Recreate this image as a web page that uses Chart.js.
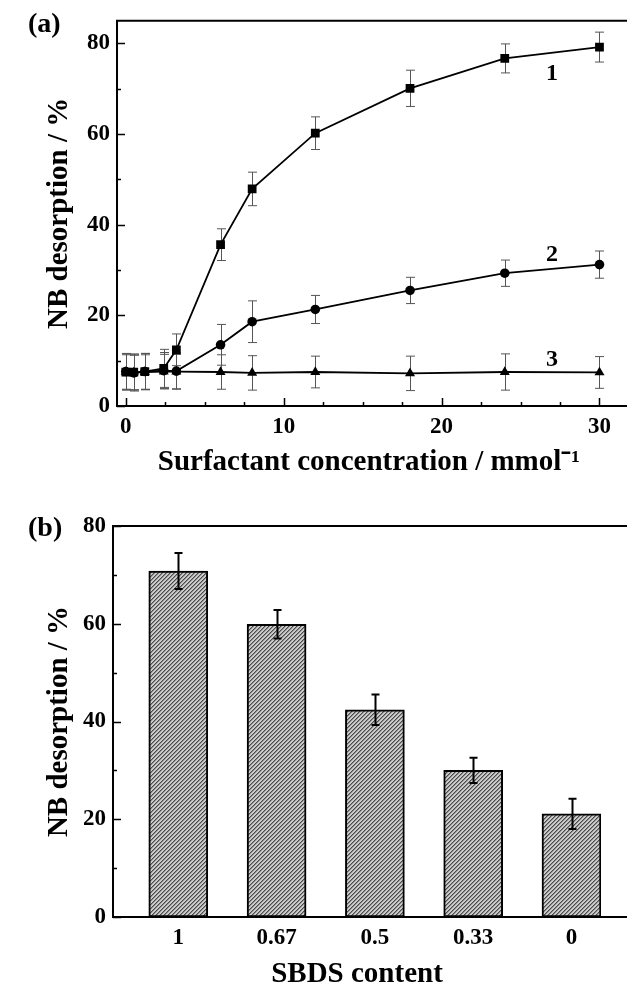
<!DOCTYPE html>
<html>
<head>
<meta charset="utf-8">
<script src="https://cdn.jsdelivr.net/npm/chart.js@4.4.1/dist/chart.umd.min.js"></script>
<style>
  html, body { margin: 0; padding: 0; background: #fff; }
  body { width: 627px; height: 989px; position: relative; overflow: hidden;
         font-family: 'Liberation Serif', 'Times New Roman', serif; }
  canvas { position: absolute; left: 0; }
  #top { top: 0; }
  #bottom { top: 495px; }
  .panel { position: absolute; z-index: 2; font-weight: bold; font-size: 28px; line-height: 1; color: #000; }
</style>
</head>
<body>
<canvas id="top" width="627" height="495"></canvas>
<canvas id="bottom" width="627" height="494"></canvas>
<div class="panel" style="left:28px;top:9px">(a)</div>
<div class="panel" style="left:28px;top:513px">(b)</div>
<script>
// panel (a): desorption vs surfactant concentration
const concentration = [0, 0.5, 1.2, 2.4, 3.2, 6, 8, 12, 18, 24, 30];
const desorption1 = [7.5, 7.5, 7.6, 8.3, 12.4, 35.6, 47.9, 60.2, 70.1, 76.7, 79.2];
const error1 = [4.0, 4.0, 4.0, 4.2, 3.5, 3.5, 3.7, 3.6, 4.0, 3.2, 3.3];
const desorption2 = [7.6, 7.3, 7.6, 7.8, 7.7, 13.5, 18.6, 21.3, 25.5, 29.3, 31.2];
const error2 = [4.0, 4.0, 4.0, 4.0, 4.0, 4.5, 4.6, 3.1, 2.9, 2.9, 3.0];
const desorption3 = [7.5, 7.4, 7.5, 7.6, 7.6, 7.5, 7.3, 7.5, 7.2, 7.5, 7.4];
const error3 = [3.8, 3.8, 3.8, 3.8, 3.8, 3.8, 3.8, 3.5, 3.8, 4.0, 3.5];
const curveLabels = ['1', '2', '3'];
const curveLabelX = [27, 27, 27];
const curveLabelY = [73.4, 33.4, 10.3];

// panel (b): desorption vs SBDS content
const sbdsContent = ['1', '0.67', '0.5', '0.33', '0'];
const barDesorption = [70.8, 59.9, 42.4, 30.0, 21.1];
const barError = [3.7, 2.9, 3.1, 2.6, 3.1];

Chart.defaults.font.family = "'Liberation Serif', 'Times New Roman', serif";
Chart.defaults.font.weight = 'bold';
Chart.defaults.color = '#000';

// inward ticks + top frame line
const frameTicks = {
  id: 'frameTicks',
  afterDraw(chart, args, opts) {
    const { ctx, chartArea: a, scales: { x, y } } = chart;
    ctx.save();
    ctx.strokeStyle = '#000';
    ctx.lineWidth = 2;
    ctx.beginPath();
    ctx.moveTo(a.left - 1, a.top);
    ctx.lineTo(chart.width, a.top);
    ctx.moveTo(a.right, a.bottom);
    ctx.lineTo(chart.width, a.bottom);
    ctx.stroke();
    ctx.lineWidth = 1.5;
    ctx.beginPath();
    if (opts.xMinor) {
      for (let v = Math.ceil(x.min / opts.xMinor) * opts.xMinor; v <= x.max; v += opts.xMinor) {
        const len = Math.abs(v % opts.xMajor) < 1e-6 ? 8 : 4;
        const px = Math.round(x.getPixelForValue(v)) + 0.5;
        ctx.moveTo(px, a.bottom);
        ctx.lineTo(px, a.bottom - len);
      }
    }
    for (let v = Math.ceil(y.min / opts.yMinor) * opts.yMinor; v <= y.max; v += opts.yMinor) {
      const len = Math.abs(v % opts.yMajor) < 1e-6 ? 8 : 4;
      const py = Math.round(y.getPixelForValue(v)) + 0.5;
      ctx.moveTo(a.left, py);
      ctx.lineTo(a.left + len, py);
    }
    ctx.stroke();
    ctx.restore();
  }
};

function drawErrors(chart, opts) {
  const { ctx, scales: { x, y } } = chart;
  ctx.save();
  ctx.strokeStyle = opts.color;
  ctx.lineWidth = opts.width;
  chart.data.datasets.forEach(ds => {
    if (!ds.errors) return;
    ds.data.forEach((p, j) => {
      const px = Math.round(x.getPixelForValue(p.x)) + 0.5;
      const hi = y.getPixelForValue(p.y + ds.errors[j]);
      const lo = y.getPixelForValue(p.y - ds.errors[j]);
      ctx.beginPath();
      ctx.moveTo(px, hi); ctx.lineTo(px, lo);
      ctx.moveTo(px - opts.cap, hi); ctx.lineTo(px + opts.cap, hi);
      ctx.moveTo(px - opts.cap, lo); ctx.lineTo(px + opts.cap, lo);
      ctx.stroke();
    });
  });
  ctx.restore();
}

const errorBars = {
  id: 'errorBars',
  beforeDatasetsDraw(chart, args, opts) { if (!opts.onTop) drawErrors(chart, opts); },
  afterDatasetsDraw(chart, args, opts) { if (opts.onTop) drawErrors(chart, opts); }
};

const curveNames = {
  id: 'curveNames',
  afterDatasetsDraw(chart, args, opts) {
    if (!opts.labels) return;
    const { ctx, scales: { x, y } } = chart;
    ctx.save();
    ctx.font = "bold 24px 'Liberation Serif', serif";
    ctx.fillStyle = '#000';
    ctx.textAlign = 'center';
    ctx.textBaseline = 'middle';
    opts.labels.forEach((t, i) => {
      ctx.fillText(t, x.getPixelForValue(opts.xs[i]), y.getPixelForValue(opts.ys[i]));
    });
    ctx.restore();
  }
};

function points(values) {
  return concentration.map((c, i) => ({ x: c, y: values[i] }));
}

const axisBorder = { display: true, color: '#000', width: 2 };
const tickFont = { size: 23, weight: 'bold' };
const titleFont = { size: 29, weight: 'bold', lineHeight: 1 };

new Chart(document.getElementById('top'), {
  type: 'line',
  data: {
    datasets: [
      { data: points(desorption1), errors: error1, pointStyle: 'rect', pointRadius: 6.2 },
      { data: points(desorption2), errors: error2, pointStyle: 'circle', pointRadius: 4.8 },
      { data: points(desorption3), errors: error3, pointStyle: 'triangle', pointRadius: 5.8 }
    ].map(d => Object.assign(d, {
      borderColor: '#000', borderWidth: 1.8, backgroundColor: '#000',
      pointBackgroundColor: '#000', pointBorderWidth: 0, tension: 0
    }))
  },
  options: {
    responsive: false, animation: false, devicePixelRatio: 1,
    layout: { padding: { top: 17, right: 0, left: 0, bottom: 0 } },
    plugins: {
      legend: { display: false }, tooltip: { enabled: false },
      errorBars: { color: '#555', width: 1, cap: 4.5, onTop: false },
      frameTicks: { xMinor: 2.5, xMajor: 10, yMinor: 10, yMajor: 20 },
      curveNames: { labels: curveLabels, xs: curveLabelX, ys: curveLabelY }
    },
    scales: {
      x: {
        type: 'linear', min: -0.56, max: 31.35,
        afterFit: s => { s.height = 89; },
        grid: { display: false, drawTicks: false }, border: axisBorder,
        ticks: { stepSize: 10, padding: 7, autoSkip: false, maxRotation: 0, includeBounds: false,
                 font: tickFont, callback: v => (v % 10 === 0 ? v : '') },
        title: { display: true, text: 'Surfactant concentration / mmol⁻¹', font: titleFont,
                 padding: { top: 0, bottom: 18 } }
      },
      y: {
        min: 0, max: 85,
        afterFit: s => { s.width = 117; },
        grid: { display: false, drawTicks: false }, border: axisBorder,
        ticks: { stepSize: 20, padding: 7, includeBounds: false, font: tickFont,
                 callback: v => (v % 20 === 0 ? v : '') },
        title: { display: true, text: 'NB desorption / %', font: titleFont,
                 padding: { top: 45, bottom: 0 } }
      }
    }
  },
  plugins: [frameTicks, errorBars, curveNames]
});

function hatch() {
  const c = document.createElement('canvas');
  c.width = 4; c.height = 4;
  const g = c.getContext('2d');
  g.fillStyle = '#cacaca';
  g.fillRect(0, 0, 4, 4);
  for (let i = 0; i < 4; i++) {
    g.fillStyle = '#4a4a4a';
    g.fillRect(i, 3 - i, 1, 1);
    g.fillStyle = '#8e8e8e';
    g.fillRect(i, (4 - i) % 4, 1, 1);
  }
  return g.createPattern(c, 'repeat');
}

new Chart(document.getElementById('bottom'), {
  type: 'bar',
  data: {
    datasets: [{
      data: sbdsContent.map((c, i) => ({ x: i + 1, y: barDesorption[i] })),
      errors: barError,
      backgroundColor: hatch(), borderColor: '#000', borderWidth: 2,
      borderSkipped: false, barThickness: 59
    }]
  },
  options: {
    responsive: false, animation: false, devicePixelRatio: 1,
    layout: { padding: { top: 31, right: 26, left: 0, bottom: 0 } },
    plugins: {
      legend: { display: false }, tooltip: { enabled: false },
      errorBars: { color: '#000', width: 2, cap: 4, onTop: true },
      frameTicks: { yMinor: 10, yMajor: 20 }
    },
    scales: {
      x: {
        type: 'linear', min: 0.336, max: 5.3, offset: false,
        afterFit: s => { s.height = 72; },
        grid: { display: false, drawTicks: false, offset: false }, border: axisBorder,
        ticks: { stepSize: 1, padding: 7, autoSkip: false, maxRotation: 0, includeBounds: false,
                 font: tickFont,
                 callback: v => (Number.isInteger(v) && v >= 1 && v <= 5 ? sbdsContent[v - 1] : '') },
        title: { display: true, text: 'SBDS content', font: titleFont, padding: { top: 0, bottom: 0 } }
      },
      y: {
        min: 0, max: 80,
        afterFit: s => { s.width = 113; },
        grid: { display: false, drawTicks: false }, border: axisBorder,
        ticks: { stepSize: 20, padding: 7, font: tickFont },
        title: { display: true, text: 'NB desorption / %', font: titleFont,
                 padding: { top: 45, bottom: 0 } }
      }
    }
  },
  plugins: [frameTicks, errorBars]
});
</script>
</body>
</html>
